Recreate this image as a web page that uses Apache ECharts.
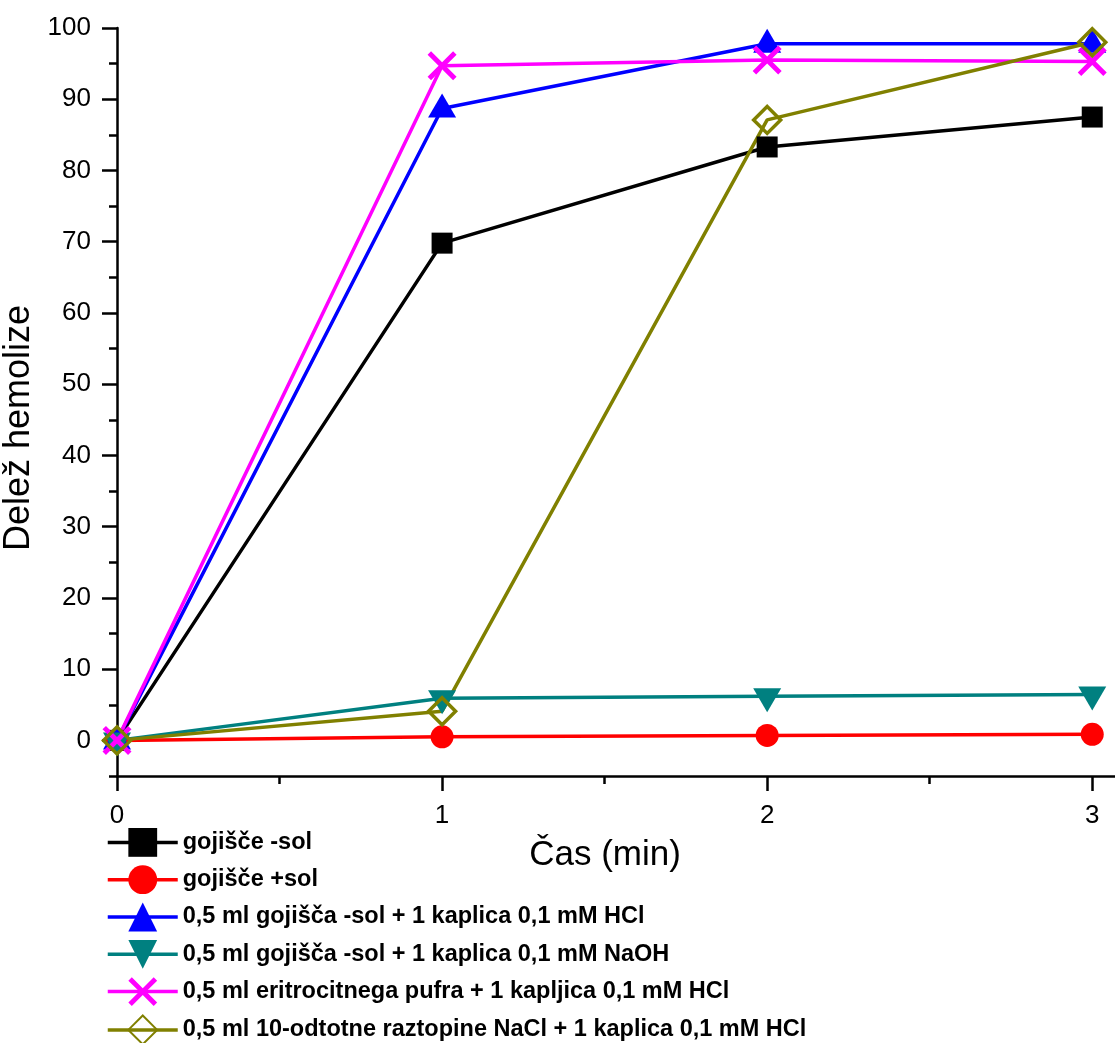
<!DOCTYPE html>
<html><head><meta charset="utf-8">
<script src="https://cdn.jsdelivr.net/npm/echarts@6/dist/echarts.min.js"></script>
<style>html,body{margin:0;padding:0;background:#fff}#c{width:1115px;height:1043px}</style>
</head><body><div id="c"></div>
<script>
const times = [0, 1, 2, 3];
const seriesNames = [
  'gojišče -sol',
  'gojišče +sol',
  '0,5 ml gojišča -sol + 1 kaplica 0,1 mM HCl',
  '0,5 ml gojišča -sol + 1 kaplica 0,1 mM NaOH',
  '0,5 ml eritrocitnega pufra + 1 kapljica 0,1 mM HCl',
  '0,5 ml 10-odtotne raztopine NaCl + 1 kaplica 0,1 mM HCl'
];
const gojisceMinusSol = [0, 69.8, 83.3, 87.5];
const gojiscePlusSol = [0, 0.5, 0.7, 0.85];
const hclGojisce = [0, 88.7, 97.8, 97.8];
const naohGojisce = [0, 5.9, 6.2, 6.45];
const hclPufer = [0, 94.7, 95.5, 95.3];
const hclNaCl = [0, 4.1, 87.1, 98.0];
const yTickLabels = [0, 10, 20, 30, 40, 50, 60, 70, 80, 90, 100];
const yMinorTicks = [-5, 5, 15, 25, 35, 45, 55, 65, 75, 85, 95];
const xTickLabels = [0, 1, 2, 3];
const xMinorTicks = [0.5, 1.5, 2.5];

const FONT = "'Liberation Sans', Arial, sans-serif";
const pair = arr => times.map((t, i) => [t, arr[i]]);
const xPath = 'path://M0,1.2L1.2,0L5,3.8L8.8,0L10,1.2L6.2,5L10,8.8L8.8,10L5,6.2L1.2,10L0,8.8L3.8,5Z';

const styles = [
  {color: '#000000', symbol: 'rect', symbolSize: 21},
  {color: '#ff0000', symbol: 'circle', symbolSize: 23},
  {color: '#0000ff', symbol: 'triangle', symbolSize: [28, 24], symbolOffset: [0, -3]},
  {color: '#008080', symbol: 'triangle', symbolSize: [28, 24], symbolRotate: 180, symbolOffset: [0, 4]},
  {color: '#ff00ff', symbol: xPath, symbolSize: 29},
  {color: '#808000', symbol: 'diamond', symbolSize: 27, hollow: true}
];
const datasets = [gojisceMinusSol, gojiscePlusSol, hclGojisce, naohGojisce, hclPufer, hclNaCl];

const series = datasets.map((d, i) => {
  const s = styles[i];
  const o = {
    name: seriesNames[i], type: 'line', data: pair(d), clip: false,
    xAxisIndex: 0, yAxisIndex: 0,
    symbol: s.symbol, symbolSize: s.symbolSize,
    lineStyle: {color: s.color, width: 3.5},
    itemStyle: s.hollow ? {color: 'rgba(255,255,255,0)', borderColor: s.color, borderWidth: 3.5} : {color: s.color},
    emphasis: {disabled: true}
  };
  if (s.symbolRotate) o.symbolRotate = s.symbolRotate;
  if (s.symbolOffset) o.symbolOffset = s.symbolOffset;
  return o;
});

const chart = echarts.init(document.getElementById('c'), null, {renderer: 'canvas'});
chart.setOption({
  animation: false,
  backgroundColor: '#ffffff',
  textStyle: {fontFamily: FONT},
  grid: {left: 117, right: 0, top: 28, bottom: 267, containLabel: false, outerBoundsMode: 'none'},
  legend: {
    orient: 'vertical', left: 106, top: 828, height: 260, padding: 0,
    itemWidth: 70, itemHeight: 36, itemGap: 8.5,
    lineStyle: {width: 3.5},
    textStyle: {fontFamily: FONT, fontSize: 23.5, fontWeight: 'bold', color: '#000'},
    selectedMode: false,
    data: seriesNames
  },
  xAxis: [{
    type: 'value', min: 0, max: 3.07,
    name: 'Čas (min)', nameLocation: 'middle', nameGap: 62,
    nameTextStyle: {fontFamily: FONT, fontSize: 35, color: '#000', padding: [0, 22, 0, 0]},
    axisLine: {onZero: false, lineStyle: {color: '#000', width: 2.5}},
    axisTick: {show: true, inside: false, length: 15, lineStyle: {color: '#000', width: 2.5}, customValues: xTickLabels},
    axisLabel: {fontFamily: FONT, fontSize: 26, color: '#000', margin: 27, customValues: xTickLabels},
    splitLine: {show: false}
  }, {
    type: 'value', min: 0, max: 3.07, position: 'bottom',
    axisLine: {show: false, onZero: false},
    axisTick: {show: true, length: 8, lineStyle: {color: '#000', width: 2.5}, customValues: xMinorTicks},
    axisLabel: {show: false},
    splitLine: {show: false}
  }],
  yAxis: [{
    type: 'value', min: -5, max: 100,
    name: 'Delež hemolize', nameLocation: 'middle', nameGap: 74, nameRotate: 90,
    nameTextStyle: {fontFamily: FONT, fontSize: 36, color: '#000', padding: [0, 52, 0, 0]},
    axisLine: {show: true, onZero: false, lineStyle: {color: '#000', width: 2.5}},
    axisTick: {show: true, length: 15, lineStyle: {color: '#000', width: 2.5}, customValues: yTickLabels},
    axisLabel: {fontFamily: FONT, fontSize: 26, color: '#000', margin: 26, customValues: yTickLabels},
    splitLine: {show: false}
  }, {
    type: 'value', min: -5, max: 100, position: 'left',
    axisLine: {show: false, onZero: false},
    axisTick: {show: true, length: 8, lineStyle: {color: '#000', width: 2.5}, customValues: yMinorTicks},
    axisLabel: {show: false},
    splitLine: {show: false}
  }],
  series: series
});
</script>
</body></html>
